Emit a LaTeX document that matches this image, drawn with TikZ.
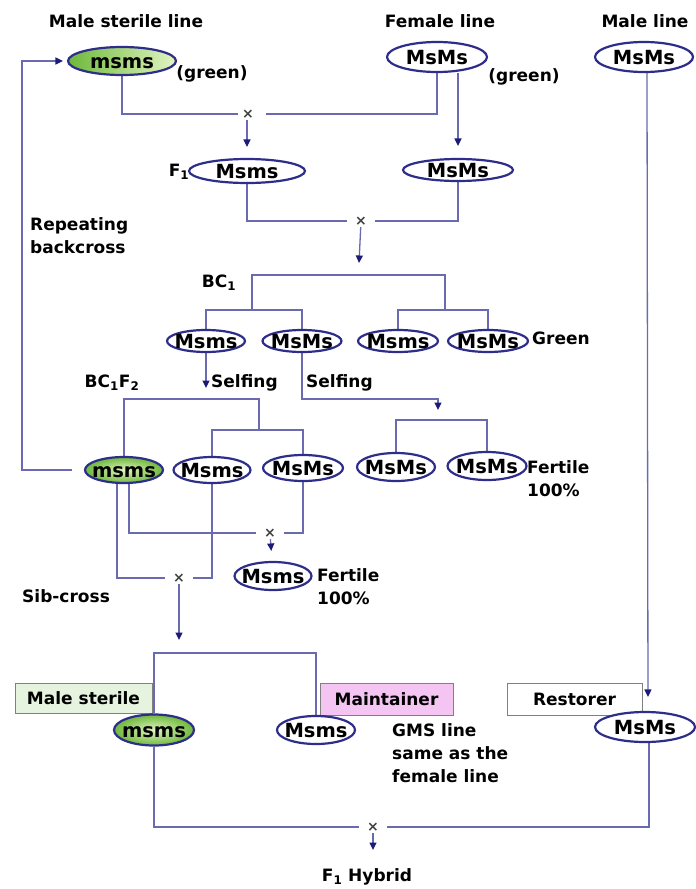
\documentclass[tikz,border=0pt]{standalone}
\usepackage{fontspec}
\setmainfont{DejaVu Sans}
\usetikzlibrary{shapes.geometric,arrows.meta,backgrounds}
\definecolor{ln}{HTML}{6A6AB0}
\definecolor{eb}{HTML}{2E2E8A}
\definecolor{gdark}{HTML}{6DB83A}
\definecolor{glight}{HTML}{E2F5C2}
\definecolor{msbox}{HTML}{E6F4DF}
\definecolor{mtbox}{HTML}{F4C4F2}
\definecolor{bx}{HTML}{808080}
\definecolor{tipc}{HTML}{1C1C78}
\newcommand\gtx[1]{\smash{\raisebox{-0.36em}{\makebox[0pt]{#1}}}}
\tikzset{
  geno/.style={ellipse, draw=eb, line width=2.2pt, fill=white, inner sep=0pt,
    font=\fontsize{19.5}{21}\selectfont\bfseries, text=black},
  gster/.style={geno, left color=gdark, right color=glight},
  gsterr/.style={geno, inner color=glight, outer color=gdark},
  lbl/.style={font=\fontsize{17}{23}\selectfont\bfseries, inner sep=0pt, text=black},
  boxlbl/.style={draw=bx, line width=1pt, inner sep=0pt,
    font=\fontsize{17}{20}\selectfont\bfseries},
  xnode/.style={font=\fontsize{14}{14}\selectfont\bfseries, text=black!75, inner sep=0pt,
    minimum width=28pt, minimum height=12pt},
  conn/.style={draw=ln, line width=1.3pt},
  arr/.style={conn, -{Triangle[width=7pt,length=7.5pt,color=tipc]}}
}
\begin{document}
\begin{tikzpicture}[x=1pt,y=-1pt]
\useasboundingbox (0,0) rectangle (696,889);

% titles
\node[lbl] (t1) at (126,21) {Male sterile line};
\node[lbl] (t2) at (440,21) {Female line};
\node[lbl] (t3) at (645,21) {Male line};

% boxes
\node[boxlbl, fill=msbox, minimum width=137pt, minimum height=30pt] (bms) at (83.5,698) {Male sterile};
\node[boxlbl, fill=mtbox, minimum width=133pt, minimum height=32pt] (bmt) at (386.5,699) {Maintainer};
\node[boxlbl, fill=white, minimum width=135pt, minimum height=32pt] (brs) at (574.5,699) {Restorer};

% genotypes
\node[gster, minimum width=108pt, minimum height=28pt] (e1) at (122,61) {\gtx{msms}};
\node[geno, minimum width=100pt, minimum height=30pt] (e2) at (437,57) {\gtx{MsMs}};
\node[geno, minimum width=98pt, minimum height=30pt] (e3) at (644,57) {\gtx{MsMs}};
\node[geno, minimum width=116pt, minimum height=24pt] (f1) at (247,171) {\gtx{Msms}};
\node[geno, minimum width=110pt, minimum height=22pt] (f2) at (458,170) {\gtx{MsMs}};

\node[geno, minimum width=78pt, minimum height=22pt] (r3a) at (206,341) {\gtx{Msms}};
\node[geno, minimum width=79pt, minimum height=22pt] (r3b) at (302,341) {\gtx{MsMs}};
\node[geno, minimum width=80pt, minimum height=22pt] (r3c) at (398,341) {\gtx{Msms}};
\node[geno, minimum width=80pt, minimum height=22pt] (r3d) at (488,341) {\gtx{MsMs}};

\node[gsterr, minimum width=78pt, minimum height=26pt] (r4a) at (124,470) {\gtx{msms}};
\node[geno, minimum width=77pt, minimum height=26pt] (r4b) at (212,470) {\gtx{Msms}};
\node[geno, minimum width=80pt, minimum height=26pt] (r4c) at (303,468) {\gtx{MsMs}};
\node[geno, minimum width=78pt, minimum height=28pt] (r4d) at (396,467) {\gtx{MsMs}};
\node[geno, minimum width=79pt, minimum height=28pt] (r4e) at (487,466) {\gtx{MsMs}};

\node[geno, minimum width=77pt, minimum height=28pt] (r5) at (273,576) {\gtx{Msms}};

\node[gsterr, minimum width=80pt, minimum height=31pt] (b1) at (154,730) {\gtx{msms}};
\node[geno, minimum width=78pt, minimum height=28pt] (b2) at (316,730) {\gtx{Msms}};
\node[geno, minimum width=100pt, minimum height=30pt] (b3) at (645,727) {\gtx{MsMs}};

% crosses
\node[xnode] (x1) at (252,114) {\makebox[0pt]{\hspace*{-8pt}×}};
\node[xnode] (x2) at (361,221) {×};
\node[xnode] (x3) at (270,533) {×};
\node[xnode] (x4) at (179,578) {×};
\node[xnode] (x5) at (373,827) {×};

% coordinates
\coordinate (bc1t) at (359,263);
\coordinate (s1) at (252,310);
\coordinate (t1b) at (359,275);
\coordinate (s2) at (445,310);
\coordinate (sf1) at (206,388);
\coordinate (sf2c) at (438,399);
\coordinate (sf2) at (438,410);
\coordinate (u1) at (259,399);
\coordinate (u2) at (259,430);
\coordinate (u3) at (438,420);
\coordinate (bk1) at (22,470);
\coordinate (bk2) at (22,61);
\coordinate (bt0) at (179,640);
\coordinate (bt2) at (316,653);
\coordinate (hy) at (373,850);

\begin{scope}[on background layer]
% row 1
\draw[conn] (e1.south) |- (x1);
\draw[conn] (e2.south) |- (x1);
\draw[arr] (e2.south -| f2.north) -- ([yshift=12pt]f2.north);
\draw[arr, shorten >=11pt] (x1.south -| f1.north) -- (f1.north);
% row 2
\draw[conn] (f1.south) |- (x2);
\draw[conn] (f2.south) |- (x2);
\draw[arr] (x2) -- (bc1t);
% BC1 tree
\draw[conn] (s1) |- (t1b) -| (s2);
\draw[conn] (r3a.north) |- (s1) -| (r3b.north);
\draw[conn] (r3c.north) |- (s2) -| (r3d.north);
% selfing
\draw[arr] (r3a.south) -- (sf1);
\draw[arr] (r3b.south) |- (sf2c) -- (sf2);
% BC1F2 tree
\draw[conn] (r4a.north) |- (u1) -- (u2);
\draw[conn] (r4b.north) |- (u2) -| (r4c.north);
\draw[conn] (r4d.north) |- (u3) -| (r4e.north);
% repeating backcross
\draw[arr, shorten <=12pt, shorten >=4pt] (r4a.west) -- (bk1) -- (bk2) -- (e1.west);
% sib crosses
\draw[conn] ([xshift=5pt]r4a.south) |- (x3);
\draw[conn] (r4c.south) |- (x3);
\draw[arr, shorten >=10pt] (x3) -- (r5);
\draw[conn] ([xshift=-7pt]r4a.south) |- (x4);
\draw[conn] (r4b.south) |- (x4);
\draw[arr] (x4) -- (bt0);
% bottom
\draw[conn] (b1.north) |- (bt2) -- (b2.north);
\draw[conn] (b1.south) |- (x5);
\draw[conn] ([xshift=4pt]b3.south) |- (x5);
\draw[arr] (x5) -- (hy);
\draw[arr, shorten >=14pt] ([xshift=3pt]e3.south) -- ([xshift=3pt]b3.north);
\end{scope}

% labels
\node[lbl] (g1) at (212,74) {(green)};
\node[lbl] (g2) at (524,77) {(green)};
\node[lbl] (lf1) at (179,172) {F\textsubscript{1}};
\node[lbl, align=left, anchor=west] (rb) at (30,236) {Repeating\\backcross};
\node[lbl] (lbc1) at (219,283) {BC\textsubscript{1}};
\node[lbl] (lbc1f2) at (112,383) {BC\textsubscript{1}F\textsubscript{2}};
\node[lbl, anchor=west] (sl1) at (211,383) {Selfing};
\node[lbl, anchor=west] (sl2) at (306,383) {Selfing};
\node[lbl, anchor=west] (gr) at (532,338) {Green};
\node[lbl, anchor=west, align=left] (fr1) at (527,478.5) {Fertile\\100\%};
\node[lbl, anchor=west, align=left] (fr2) at (317,587) {Fertile\\100\%};
\node[lbl, anchor=west] (sib) at (22,596) {Sib-cross};
\node[lbl, anchor=west, align=left] (gms) at (392,753.5) {GMS line\\same as the\\female line};
\node[lbl] (hyb) at (367,877) {F\textsubscript{1} Hybrid};
\end{tikzpicture}
\end{document}
